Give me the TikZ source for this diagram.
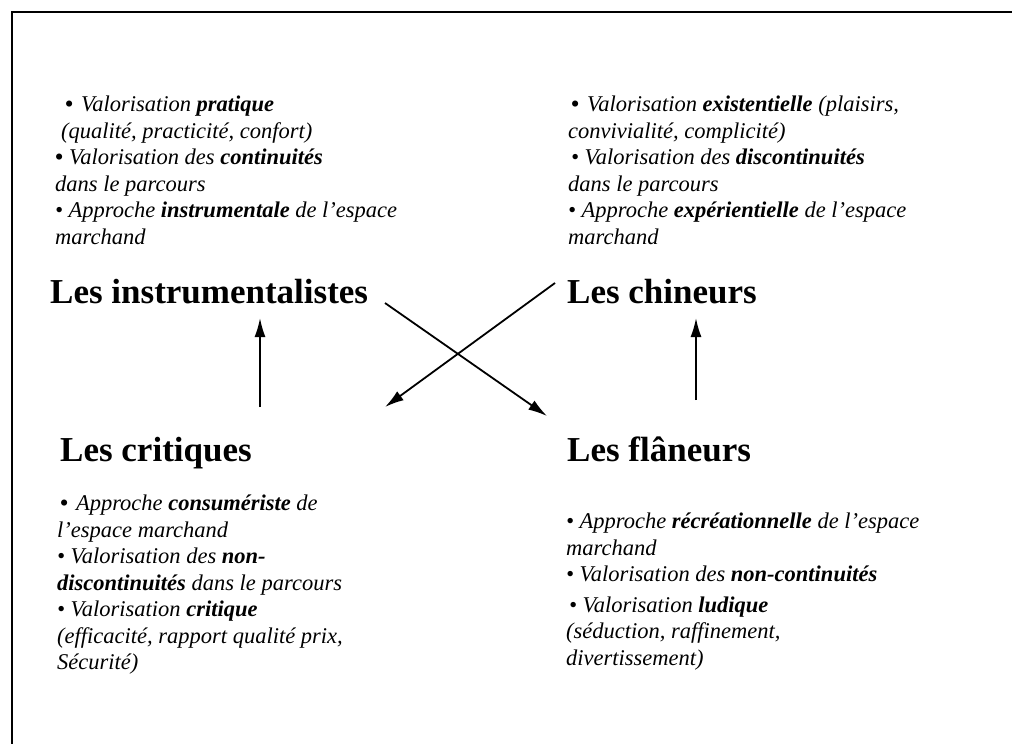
\documentclass[tikz,border=0pt]{standalone}
\usepackage{fontspec}
\setmainfont{Liberation Serif}
\usetikzlibrary{arrows.meta}
\begin{document}
\begin{tikzpicture}[x=1pt,y=-1pt,
  titre/.style={anchor=base west,inner sep=0pt,font=\fontsize{35}{40}\selectfont\bfseries},
  bloc/.style={anchor=north west,inner sep=0pt,align=left,font=\fontsize{22.5}{26.5}\selectfont\itshape},
  fleche/.style={line width=1.8pt,-{Latex[length=19pt,width=11pt]}}]
\useasboundingbox (0,0) rectangle (1012,744);
\draw[line width=1.8pt] (12,744) -- (12,12) -- (1012,12);
% les quatre profils
\node[titre] (instr) at (50,303) {Les instrumentalistes};
\node[titre] (chin) at (567,303) {Les chineurs};
\node[titre] (crit) at (60,461) {Les critiques};
\node[titre] (flan) at (567,461) {Les flâneurs};
% descriptions
\node[bloc] (instr-txt) at (55,96) {\hspace*{10pt}\textbf{•}\hspace{8pt}Valorisation \textbf{pratique}\\
\hspace*{6pt}(qualité, practicité, confort)\\
\textbf{•}\hspace{6pt}Valorisation des \textbf{continuités}\\
dans le parcours\\
• Approche \textbf{instrumentale} de l'espace\\
marchand};
\node[bloc] (chin-txt) at (568,96) {\hspace*{3pt}\textbf{•}\hspace{8pt}Valorisation \textbf{existentielle} (plaisirs,\\
convivialité, complicité)\\
\hspace*{3pt}• Valorisation des \textbf{discontinuités}\\
dans le parcours\\
• Approche \textbf{expérientielle} de l'espace\\
marchand};
\node[bloc] (crit-txt) at (57,495) {\hspace*{3pt}\textbf{•}\hspace{8pt}Approche \textbf{consumériste} de\\
l’espace marchand\\
• Valorisation des \textbf{non-}\\
\textbf{discontinuités} dans le parcours\\
• Valorisation \textbf{critique}\\
(efficacité, rapport qualité prix,\\
Sécurité)};
\node[bloc] (flan-txt) at (566,513) {• Approche \textbf{récréationnelle} de l'espace\\
marchand\\
• Valorisation des \textbf{non-continuités}\\[4pt]
\hspace*{3pt}• Valorisation \textbf{ludique}\\
(séduction, raffinement,\\
divertissement)};
% extremites des fleches
\coordinate (crit-haut) at (260,318);
\coordinate (crit-bas) at (260,407);
\coordinate (flan-haut) at (696,318);
\coordinate (flan-bas) at (696,400);
\coordinate (instr-sortie) at (385,303);
\coordinate (flan-entree) at (547,416);
\coordinate (chin-sortie) at (555,283);
\coordinate (crit-entree) at (385,407);
\draw[fleche] (crit-bas) -- (crit-haut);
\draw[fleche] (flan-bas) -- (flan-haut);
\draw[fleche] (instr-sortie) -- (flan-entree);
\draw[fleche] (chin-sortie) -- (crit-entree);
\end{tikzpicture}
\end{document}
